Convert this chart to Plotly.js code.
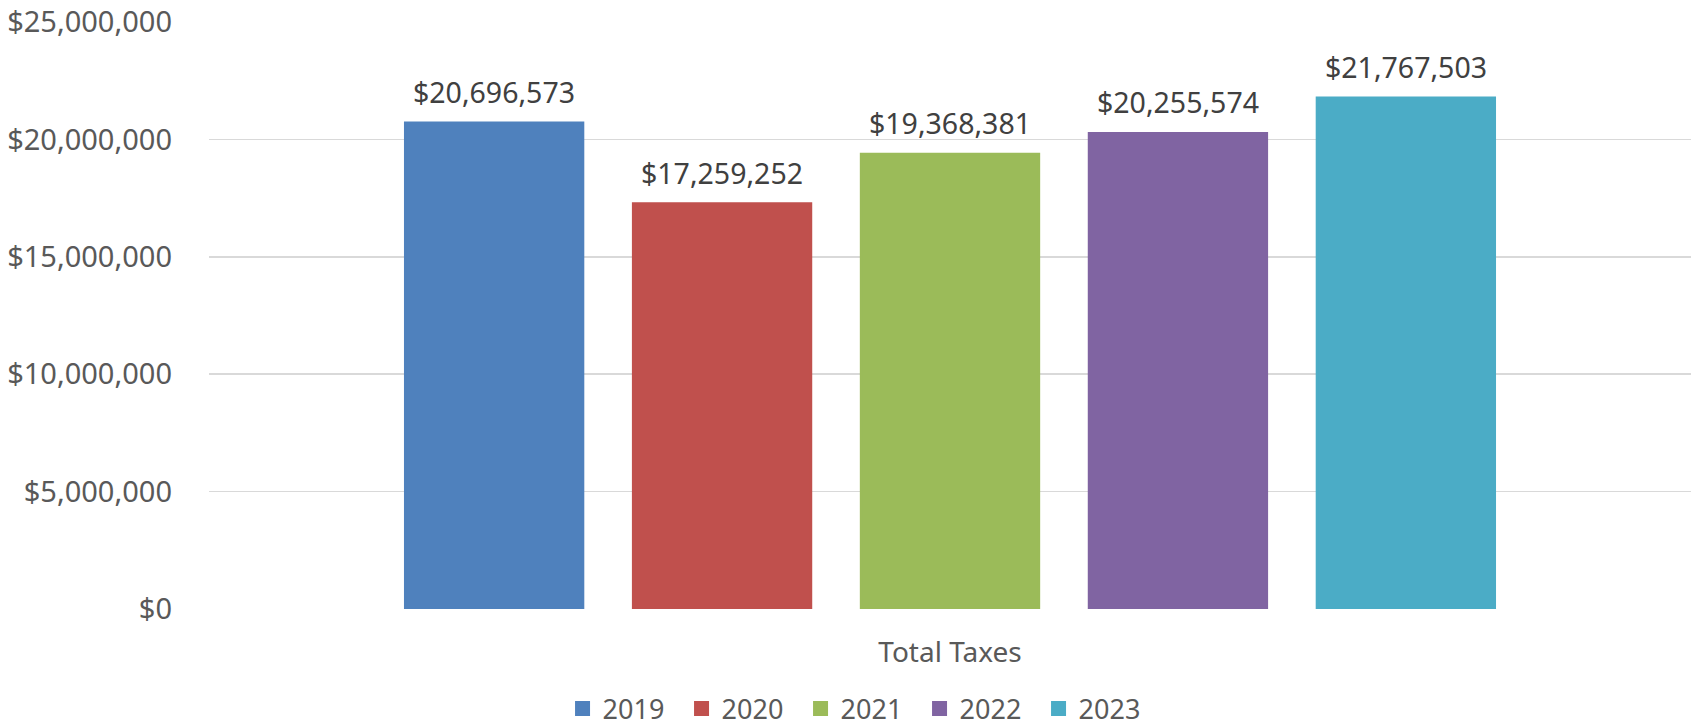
<!DOCTYPE html>
<html>
<head>
<meta charset="utf-8">
<script src="https://cdn.plot.ly/plotly-3.0.1.min.js"></script>
<style>html,body{margin:0;padding:0;background:#fff;}#chart{width:1693px;height:728px;}</style>
</head>
<body>
<div id="chart"></div>
<script>
const category = ["Total Taxes"];
const years = ["2019", "2020", "2021", "2022", "2023"];
const values = [20696573, 17259252, 19368381, 20255574, 21767503];
const colors = ["#4F81BD", "#C0504D", "#9BBB59", "#8064A2", "#4BACC6"];
const yTicks = [0, 5000000, 10000000, 15000000, 20000000, 25000000];

const FONT = "Noto Sans, Open Sans, sans-serif";
const fmt = v => "$" + v.toLocaleString("en-US");

const BARGAP = 0.231;
const BARGROUPGAP = 0.222;
const LINEW = 3;

const traces = years.map((yr, i) => ({
  type: "bar",
  name: yr,
  x: category,
  y: [values[i]],
  marker: {color: colors[i], line: {color: colors[i], width: LINEW}},
  hoverinfo: "name+y"
}));

// data labels placed through the axis scales (category index 0, offset by trace slot)
const slot = (1 - BARGAP) / years.length;
const annotations = years.map((yr, i) => ({
  xref: "x",
  yref: "y",
  x: (i - (years.length - 1) / 2) * slot,
  y: values[i],
  text: fmt(values[i]),
  showarrow: false,
  xanchor: "center",
  yanchor: "bottom",
  yshift: 10,
  font: {family: FONT, size: 28.5, color: "#404040"}
}));

const layout = {
  width: 1693,
  height: 728,
  margin: {l: 209, r: 2, t: 22, b: 119},
  paper_bgcolor: "#ffffff",
  plot_bgcolor: "#ffffff",
  barmode: "group",
  bargap: BARGAP,
  bargroupgap: BARGROUPGAP,
  font: {family: FONT, size: 28, color: "#595959"},
  annotations: annotations,
  xaxis: {
    type: "category",
    showgrid: false,
    showline: false,
    zeroline: false,
    ticks: "",
    ticklabelstandoff: 24,
    tickfont: {family: FONT, size: 28, color: "#595959"}
  },
  yaxis: {
    range: [0, 25000000],
    tickvals: yTicks,
    ticktext: yTicks.map(fmt),
    showgrid: true,
    gridcolor: "#d9d9d9",
    gridwidth: 1.5,
    zeroline: false,
    showline: false,
    ticks: "",
    ticklabelstandoff: 36,
    tickfont: {family: FONT, size: 29, color: "#595959"}
  },
  showlegend: true,
  legend: {
    orientation: "h",
    xref: "container",
    yref: "container",
    x: 0.508,
    xanchor: "center",
    y: 0.026,
    yanchor: "middle",
    tracegroupgap: 0,
    entrywidth: 74,
    entrywidthmode: "pixels",
    traceorder: "normal",
    font: {family: FONT, size: 27, color: "#595959"}
  }
};

Plotly.newPlot("chart", traces, layout, {displayModeBar: false, staticPlot: true});
</script>
</body>
</html>
